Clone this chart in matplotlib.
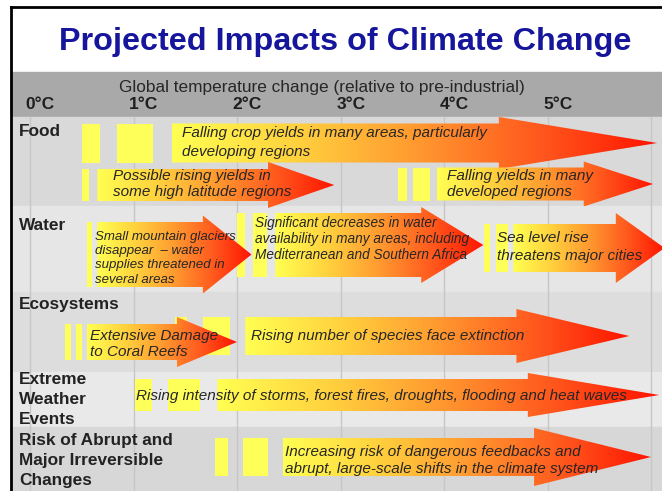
import matplotlib
matplotlib.use("Agg")
import matplotlib.pyplot as plt
import numpy as np
from matplotlib.patches import Polygon, Rectangle
from matplotlib.colors import LinearSegmentedColormap

plt.rcParams['font.family'] = ['Liberation Sans', 'DejaVu Sans']

# ---------------------------------------------------------------- data
title = "Projected Impacts of Climate Change"
axis_title = "Global temperature change (relative to pre-industrial)"
temps = [0, 1, 2, 3, 4, 5]
tick_labels = ["0°C", "1°C", "2°C", "3°C", "4°C", "5°C"]

categories = ["Food", "Water", "Ecosystems",
              "Extreme\nWeather\nEvents",
              "Risk of Abrupt and\nMajor Irreversible\nChanges"]

impact_texts = [
    "Falling crop yields in many areas, particularly\ndeveloping regions",
    "Possible rising yields in\nsome high latitude regions",
    "Falling yields in many\ndeveloped regions",
    "Small mountain glaciers\ndisappear  \u2013 water\nsupplies threatened in\nseveral areas",
    "Significant decreases in water\navailability in many areas, including\nMediterranean and Southern Africa",
    "Sea level rise\nthreatens major cities",
    "Extensive Damage\nto Coral Reefs",
    "Rising number of species face extinction",
    "Rising intensity of storms, forest fires, droughts, flooding and heat waves",
    "Increasing risk of dangerous feedbacks and\nabrupt, large-scale shifts in the climate system",
]
impact_category = [0, 0, 0, 1, 1, 1, 2, 2, 3, 4]
# temperature (°C) where each arrow body starts, where its head begins, and its tip
impact_start = [1.37, 0.65, 3.93, 0.65, 2.37, 4.67, 0.55, 2.08, 1.81, 2.44]
impact_head = [4.53, 2.30, 5.35, 1.67, 3.78, 5.66, 1.42, 4.70, 4.81, 4.87]
impact_tip = [6.06, 2.94, 6.02, 2.14, 4.38, 6.13, 2.00, 5.79, 6.08, 6.00]
# early-onset temperature bands shown as yellow blocks before each arrow
impact_onset = [
    [(0.50, 0.68), (0.84, 1.19)],
    [(0.50, 0.57)],
    [(3.56, 3.64), (3.70, 3.86)],
    [(0.55, 0.60)],
    [(2.00, 2.08), (2.15, 2.29)],
    [(4.39, 4.44), (4.50, 4.62)],
    [(0.34, 0.40), (0.44, 0.50)],
    [(1.40, 1.52), (1.67, 1.93)],
    [(1.01, 1.18), (1.33, 1.64)],
    [(1.79, 1.91), (2.06, 2.30)],
]

# ---------------------------------------------------------------- layout
W, H = 662, 491
PX0, PX_PER_DEG = 30.0, 103.5          # horizontal scale of the temperature axis
row_edges = [117, 206, 292, 372, 427, 491]
row_colors = ['#d9d9d9', '#e6e6e6', '#dddddd', '#e9e9e9', '#d7d7d7']
label_y = [132, 226, 305, 380, 440]

arrow_center = [143, 185, 184, 254.5, 245, 248, 342, 336, 395, 457]
body_half = [19.5, 16, 16.5, 32.5, 32, 24, 18, 19, 16, 19]
head_half = [26, 23, 22.5, 39, 38, 35, 25, 27, 22, 29]
text_x = [1.47, 0.80, 4.03, 0.63, 2.17, 4.51, 0.58, 2.135, 1.02, 2.46]
text_y = [133, 176, 176, 237, 223, 238, 336, 336, 396, 452]
text_gap = [19, 16, 16, 14.2, 16, 18, 16, 0, 0, 17]
text_size = [11, 11, 11, 9.5, 9.8, 11, 11, 11, 11, 11]

fig = plt.figure(figsize=(W / 100, H / 100), dpi=100)
ax = fig.add_axes([0, 0, 1, 1])
xmin, xmax = -PX0 / PX_PER_DEG, (W - PX0) / PX_PER_DEG
fx = (10.5 - PX0) / PX_PER_DEG
ax.set_xlim(xmin, xmax)
ax.set_ylim(H, 0)
ax.axis('off')

# header band and category rows
ax.add_patch(Rectangle((fx, 72), xmax - fx, row_edges[0] - 72,
                       color='#a9a9a9', zorder=0))
for i, c in enumerate(row_colors):
    ax.add_patch(Rectangle((fx, row_edges[i]), xmax - fx,
                           row_edges[i + 1] - row_edges[i], color=c, zorder=0))

# vertical temperature grid
for t in range(7):
    ax.plot([t, t], [row_edges[0], H], color='#c6c6c6', lw=1.0, zorder=1)

# frame lines
ax.plot([fx, xmax], [7, 7], color='black', lw=2, zorder=10)
ax.plot([fx, fx], [7, H], color='black', lw=2, zorder=10)

ax.text((345 - PX0) / PX_PER_DEG, 42, title, ha='center', va='center',
        fontsize=23.3, fontweight='bold', color='#16169c', zorder=5)
ax.text((322 - PX0) / PX_PER_DEG, 87, axis_title, ha='center', va='center',
        fontsize=12.4, color='#262626', zorder=5)
for t, lab in zip(temps, tick_labels):
    ax.text(t + 0.1, 104, lab, ha='center', va='center', fontsize=12.5,
            fontweight='bold', color='#1e1e1e', zorder=5)

for cat, y in zip(categories, label_y):
    for k, line in enumerate(cat.split('\n')):
        ax.text((19 - PX0) / PX_PER_DEG, y + 20 * k, line, ha='left',
                va='center', fontsize=12.4, fontweight='bold', color='#222222',
                zorder=5)

cmap = LinearSegmentedColormap.from_list(
    'heat', ['#ffff52', '#ffd23e', '#ff9a30', '#ff5a1e', '#ff1400'])
grad = np.linspace(0, 1, 256).reshape(1, -1)

# onset blocks first so arrow heads overlap them
for i, bands in enumerate(impact_onset):
    c, bh = arrow_center[i], body_half[i]
    for a, b in bands:
        ax.add_patch(Rectangle((a, c - bh), b - a, 2 * bh, color='#ffff5a',
                               lw=0, zorder=2))

for i in range(len(impact_texts)):
    x0, xh, xt = impact_start[i], impact_head[i], impact_tip[i]
    c, bh, hh = arrow_center[i], body_half[i], head_half[i]
    verts = [(x0, c - bh), (xh, c - bh), (xh, c - hh), (xt, c),
             (xh, c + hh), (xh, c + bh), (x0, c + bh)]
    poly = Polygon(verts, closed=True, facecolor='none', edgecolor='none',
                   zorder=3)
    ax.add_patch(poly)
    im = ax.imshow(grad, cmap=cmap, aspect='auto', extent=[x0, xt, c + hh, c - hh],
                   interpolation='bilinear', zorder=3)
    im.set_clip_path(poly)
    for k, line in enumerate(impact_texts[i].split('\n')):
        ax.text(text_x[i], text_y[i] + text_gap[i] * k, line, ha='left',
                va='center', fontsize=text_size[i], style='italic',
                color='#262626', zorder=6)

ax.set_xlim(xmin, xmax)
ax.set_ylim(H, 0)
fig.savefig('out.png', dpi=100)
